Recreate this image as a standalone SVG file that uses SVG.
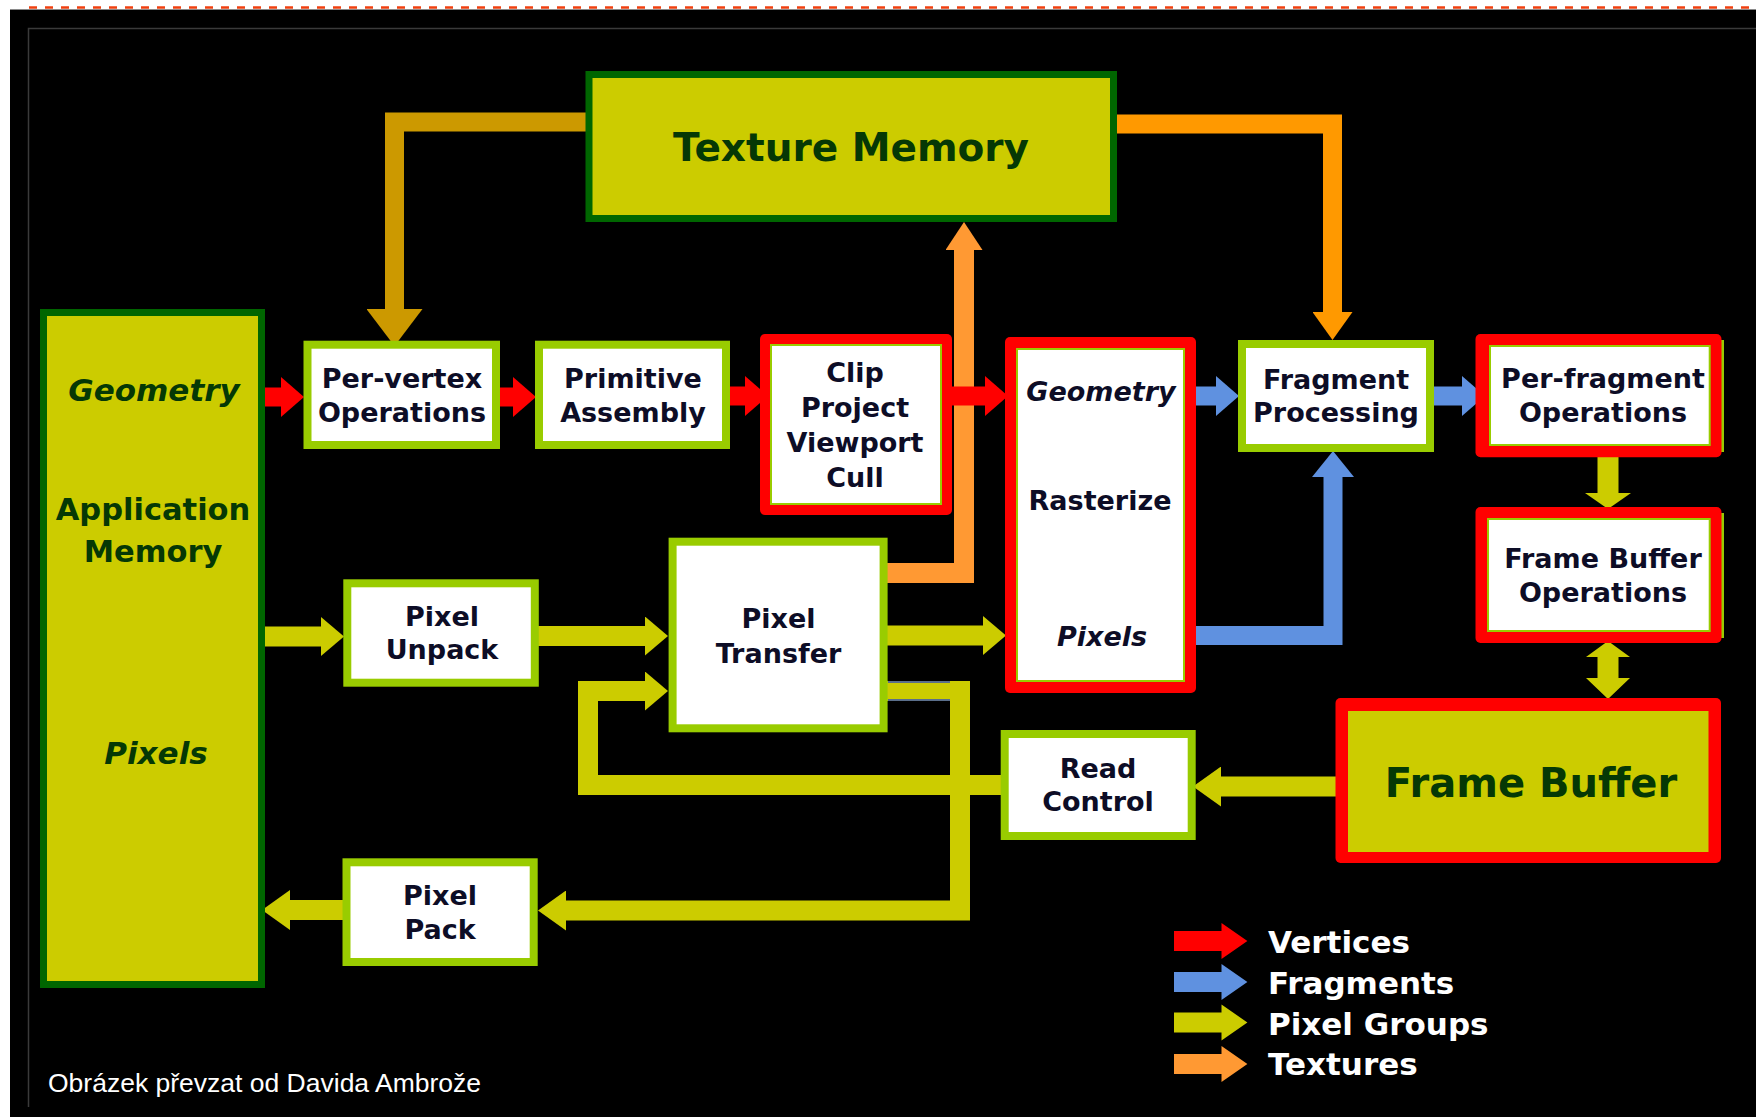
<svg xmlns="http://www.w3.org/2000/svg" width="1756" height="1117" viewBox="0 0 1756 1117">
<defs>
<style>
.t{font-family:"DejaVu Sans","Open Sans",sans-serif;font-weight:700;font-size:27px;fill:#0d0d26;text-anchor:middle}
.tg{fill:#053805}
.it{font-style:italic}
.gbox{fill:#fff;stroke:#99cc00;stroke-width:8}
.ybox{fill:#cccc00;stroke:#006600;stroke-width:7}
.rframe{fill:#ff0000}
.rin{fill:#fff;stroke:#99cc00;stroke-width:2}
.s{fill:none;stroke-linejoin:miter;stroke-linecap:butt}
.sr{stroke:#ff0000;stroke-width:19}
.sb{stroke:#5f91e0;stroke-width:19}
.sy{stroke:#cccc00;stroke-width:20}
.so{stroke:#ff9900;stroke-width:19}
.so2{stroke:#ff9933;stroke-width:20}
.sg{stroke:#cc9900;stroke-width:19}
.leg{font-family:"DejaVu Sans","Open Sans",sans-serif;font-weight:700;font-size:31px;fill:#fff}
.cap{font-family:"Liberation Sans",Arial,sans-serif;font-size:26.5px;fill:#fff}
</style>
<marker id="hR" markerUnits="userSpaceOnUse" viewBox="0 0 23 40" refX="0" refY="20" markerWidth="23" markerHeight="40" orient="auto"><path d="M0,0 L23,20 L0,40 z" fill="#ff0000"/></marker>
<marker id="hB" markerUnits="userSpaceOnUse" viewBox="0 0 23 40" refX="0" refY="20" markerWidth="23" markerHeight="40" orient="auto"><path d="M0,0 L23,20 L0,40 z" fill="#5f91e0"/></marker>
<marker id="hBu" markerUnits="userSpaceOnUse" viewBox="0 0 26 42" refX="0" refY="21" markerWidth="26" markerHeight="42" orient="auto"><path d="M0,0 L26,21 L0,42 z" fill="#5f91e0"/></marker>
<marker id="hY" markerUnits="userSpaceOnUse" viewBox="0 0 23 39" refX="0" refY="19.5" markerWidth="23" markerHeight="39" orient="auto"><path d="M0,0 L23,19.5 L0,39 z" fill="#cccc00"/></marker>
<marker id="hY28" markerUnits="userSpaceOnUse" viewBox="0 0 28 40" refX="0" refY="20" markerWidth="28" markerHeight="40" orient="auto"><path d="M0,0 L28,20 L0,40 z" fill="#cccc00"/></marker>
<marker id="hO" markerUnits="userSpaceOnUse" viewBox="0 0 28 40" refX="0" refY="20" markerWidth="28" markerHeight="40" orient="auto"><path d="M0,0 L28,20 L0,40 z" fill="#ff9900"/></marker>
<marker id="hO2" markerUnits="userSpaceOnUse" viewBox="0 0 28 37" refX="0" refY="18.5" markerWidth="28" markerHeight="37" orient="auto"><path d="M0,0 L28,18.5 L0,37 z" fill="#ff9933"/></marker>
<marker id="hG" markerUnits="userSpaceOnUse" viewBox="0 0 37 56" refX="0" refY="28" markerWidth="37" markerHeight="56" orient="auto"><path d="M0,0 L37,28 L0,56 z" fill="#cc9900"/></marker>
<path id="legArrow" d="M0,-10 H47.5 V-18 L73.4,0 L47.5,18 V10 H0 z"/>
</defs>

<rect width="1756" height="1117" fill="#fff"/>
<rect x="10" y="10" width="1746" height="1107" fill="#000"/>
<line x1="10" y1="9.5" x2="1756" y2="9.5" stroke="#8a8a8a" stroke-width="1"/>
<line x1="29" y1="7.5" x2="1756" y2="7.5" stroke="#f04010" stroke-width="2.5" stroke-dasharray="8 8"/>
<path d="M28.5,1107 V28.5 H1756" fill="none" stroke="#3a3a3a" stroke-width="1.5"/>

<g id="connectors">
<path class="s sg" d="M591,122 H394.5 V309" marker-end="url(#hG)"/>
<path class="s so" d="M1112,124 H1332.5 V312" marker-end="url(#hO)"/>
<path class="s so2" d="M885,573 H964 V250" marker-end="url(#hO2)"/>
<path class="s sr" d="M262,397 H281" marker-end="url(#hR)"/>
<path class="s sr" d="M498,397 H513" marker-end="url(#hR)"/>
<path class="s sr" d="M728,396 H745" marker-end="url(#hR)"/>
<path class="s sr" d="M950,396 H985" marker-end="url(#hR)"/>
<path class="s sb" d="M1194,396 H1216" marker-end="url(#hB)"/>
<path class="s sb" d="M1432,396 H1462" marker-end="url(#hB)"/>
<path class="s sb" d="M1194,635.5 H1333 V477" marker-end="url(#hBu)"/>
<path class="s sy" d="M262,636.5 H321" marker-end="url(#hY)"/>
<path class="s sy" d="M537,636 H645" marker-end="url(#hY)"/>
<path class="s sy" d="M886,635.5 H983" marker-end="url(#hY)"/>
<path class="s sy" d="M1003,785 H588 V691 H645" marker-end="url(#hY)"/>
<path class="s sy" d="M886,691 H960 V910.5 H566" marker-end="url(#hY28)"/>
<line x1="888" y1="682" x2="950" y2="682" stroke="#5a6e8a" stroke-width="2"/>
<line x1="888" y1="700" x2="950" y2="700" stroke="#5a6e8a" stroke-width="2"/>
<path class="s sy" d="M343,910 H290" marker-end="url(#hY28)"/>
<path class="s sy" d="M1337,786.5 H1221" marker-end="url(#hY28)"/>
<path fill="#cccc00" d="M1597.5,455 H1618.5 V493 H1631 L1608,509 L1585,493 H1597.5 z"/>
<path fill="#cccc00" d="M1608,641 L1630,657 H1618.5 V678 H1630 L1608,699 L1586,678 H1597.5 V657 H1586 z"/>
</g>

<g id="texture-memory">
<rect class="ybox" x="589" y="74.5" width="524.5" height="144"/>
<text class="t tg" x="851" y="161" style="font-size:39px">Texture Memory</text>
</g>

<g id="application-memory">
<rect class="ybox" x="43.5" y="312.5" width="218" height="672"/>
<text class="t tg it" x="154" y="401" style="font-size:31px">Geometry</text>
<text class="t tg" x="153" y="520" style="font-size:30.5px">Application</text>
<text class="t tg" x="153" y="562" style="font-size:30.5px">Memory</text>
<text class="t tg it" x="156" y="764" style="font-size:31px">Pixels</text>
</g>

<g id="per-vertex">
<rect class="gbox" x="307.5" y="344.7" width="188.5" height="100.3"/>
<text class="t" x="402" y="388">Per-vertex</text>
<text class="t" x="402" y="421.7">Operations</text>
</g>

<g id="primitive-assembly">
<rect class="gbox" x="539" y="344.7" width="187" height="100.3"/>
<text class="t" x="633" y="388">Primitive</text>
<text class="t" x="633" y="421.7">Assembly</text>
</g>

<g id="clip">
<rect class="rframe" x="760" y="334" width="192" height="181" rx="5"/>
<rect class="rin" x="771" y="345" width="170" height="159"/>
<text class="t" x="855" y="381.7">Clip</text>
<text class="t" x="855" y="416.7">Project</text>
<text class="t" x="855" y="451.7">Viewport</text>
<text class="t" x="855" y="486.7">Cull</text>
</g>

<g id="rasterize">
<rect class="rframe" x="1005" y="337" width="191" height="356" rx="5"/>
<rect class="rin" x="1017" y="349" width="167" height="332"/>
<text class="t it" x="1101" y="401">Geometry</text>
<text class="t" x="1100" y="510">Rasterize</text>
<text class="t it" x="1102" y="646">Pixels</text>
</g>

<g id="fragment-processing">
<rect class="gbox" x="1242" y="344" width="188" height="104"/>
<text class="t" x="1336" y="388.5">Fragment</text>
<text class="t" x="1336" y="422">Processing</text>
</g>

<g id="per-fragment">
<rect x="1478" y="340" width="246" height="112" fill="#99cc00"/>
<rect class="rframe" x="1475.5" y="334" width="246" height="123.3" rx="5"/>
<rect class="rin" x="1490" y="346" width="219.7" height="99"/>
<text class="t" x="1603" y="388">Per-fragment</text>
<text class="t" x="1603" y="422">Operations</text>
</g>

<g id="frame-buffer-operations">
<rect x="1478" y="513" width="246" height="125" fill="#99cc00"/>
<rect class="rframe" x="1475.5" y="507" width="246" height="136" rx="5"/>
<rect class="rin" x="1488" y="519" width="221.7" height="112"/>
<text class="t" x="1603" y="567.5">Frame Buffer</text>
<text class="t" x="1603" y="601.5">Operations</text>
</g>

<g id="frame-buffer">
<rect class="rframe" x="1335.5" y="698" width="385.5" height="165" rx="5"/>
<rect x="1348" y="711" width="360.5" height="141" fill="#cccc00"/>
<text class="t tg" x="1531" y="797" style="font-size:40px">Frame Buffer</text>
</g>

<g id="pixel-unpack">
<rect class="gbox" x="347.3" y="583.3" width="187.5" height="99.4"/>
<text class="t" x="442" y="625.5">Pixel</text>
<text class="t" x="442" y="659">Unpack</text>
</g>

<g id="pixel-transfer">
<rect class="gbox" x="672.6" y="541.7" width="211" height="186.6"/>
<text class="t" x="778.5" y="628.3">Pixel</text>
<text class="t" x="778.5" y="663.3">Transfer</text>
</g>

<g id="read-control">
<rect class="gbox" x="1004.7" y="734" width="187" height="102"/>
<text class="t" x="1098" y="777.5">Read</text>
<text class="t" x="1098" y="811">Control</text>
</g>

<g id="pixel-pack">
<rect class="gbox" x="346.5" y="862.3" width="187.2" height="99.7"/>
<text class="t" x="440" y="905">Pixel</text>
<text class="t" x="440" y="939">Pack</text>
</g>

<g id="legend">
<use href="#legArrow" x="1174" y="941" fill="#ff0000"/>
<use href="#legArrow" x="1174" y="982" fill="#5f91e0"/>
<use href="#legArrow" x="1174" y="1022.5" fill="#cccc00"/>
<use href="#legArrow" x="1174" y="1064" fill="#ff9933"/>
<text class="leg" x="1268" y="953">Vertices</text>
<text class="leg" x="1268" y="994">Fragments</text>
<text class="leg" x="1268" y="1035">Pixel Groups</text>
<text class="leg" x="1268" y="1075">Textures</text>
</g>

<text class="cap" x="48" y="1092">Obrázek převzat od Davida Ambrože</text>
</svg>
